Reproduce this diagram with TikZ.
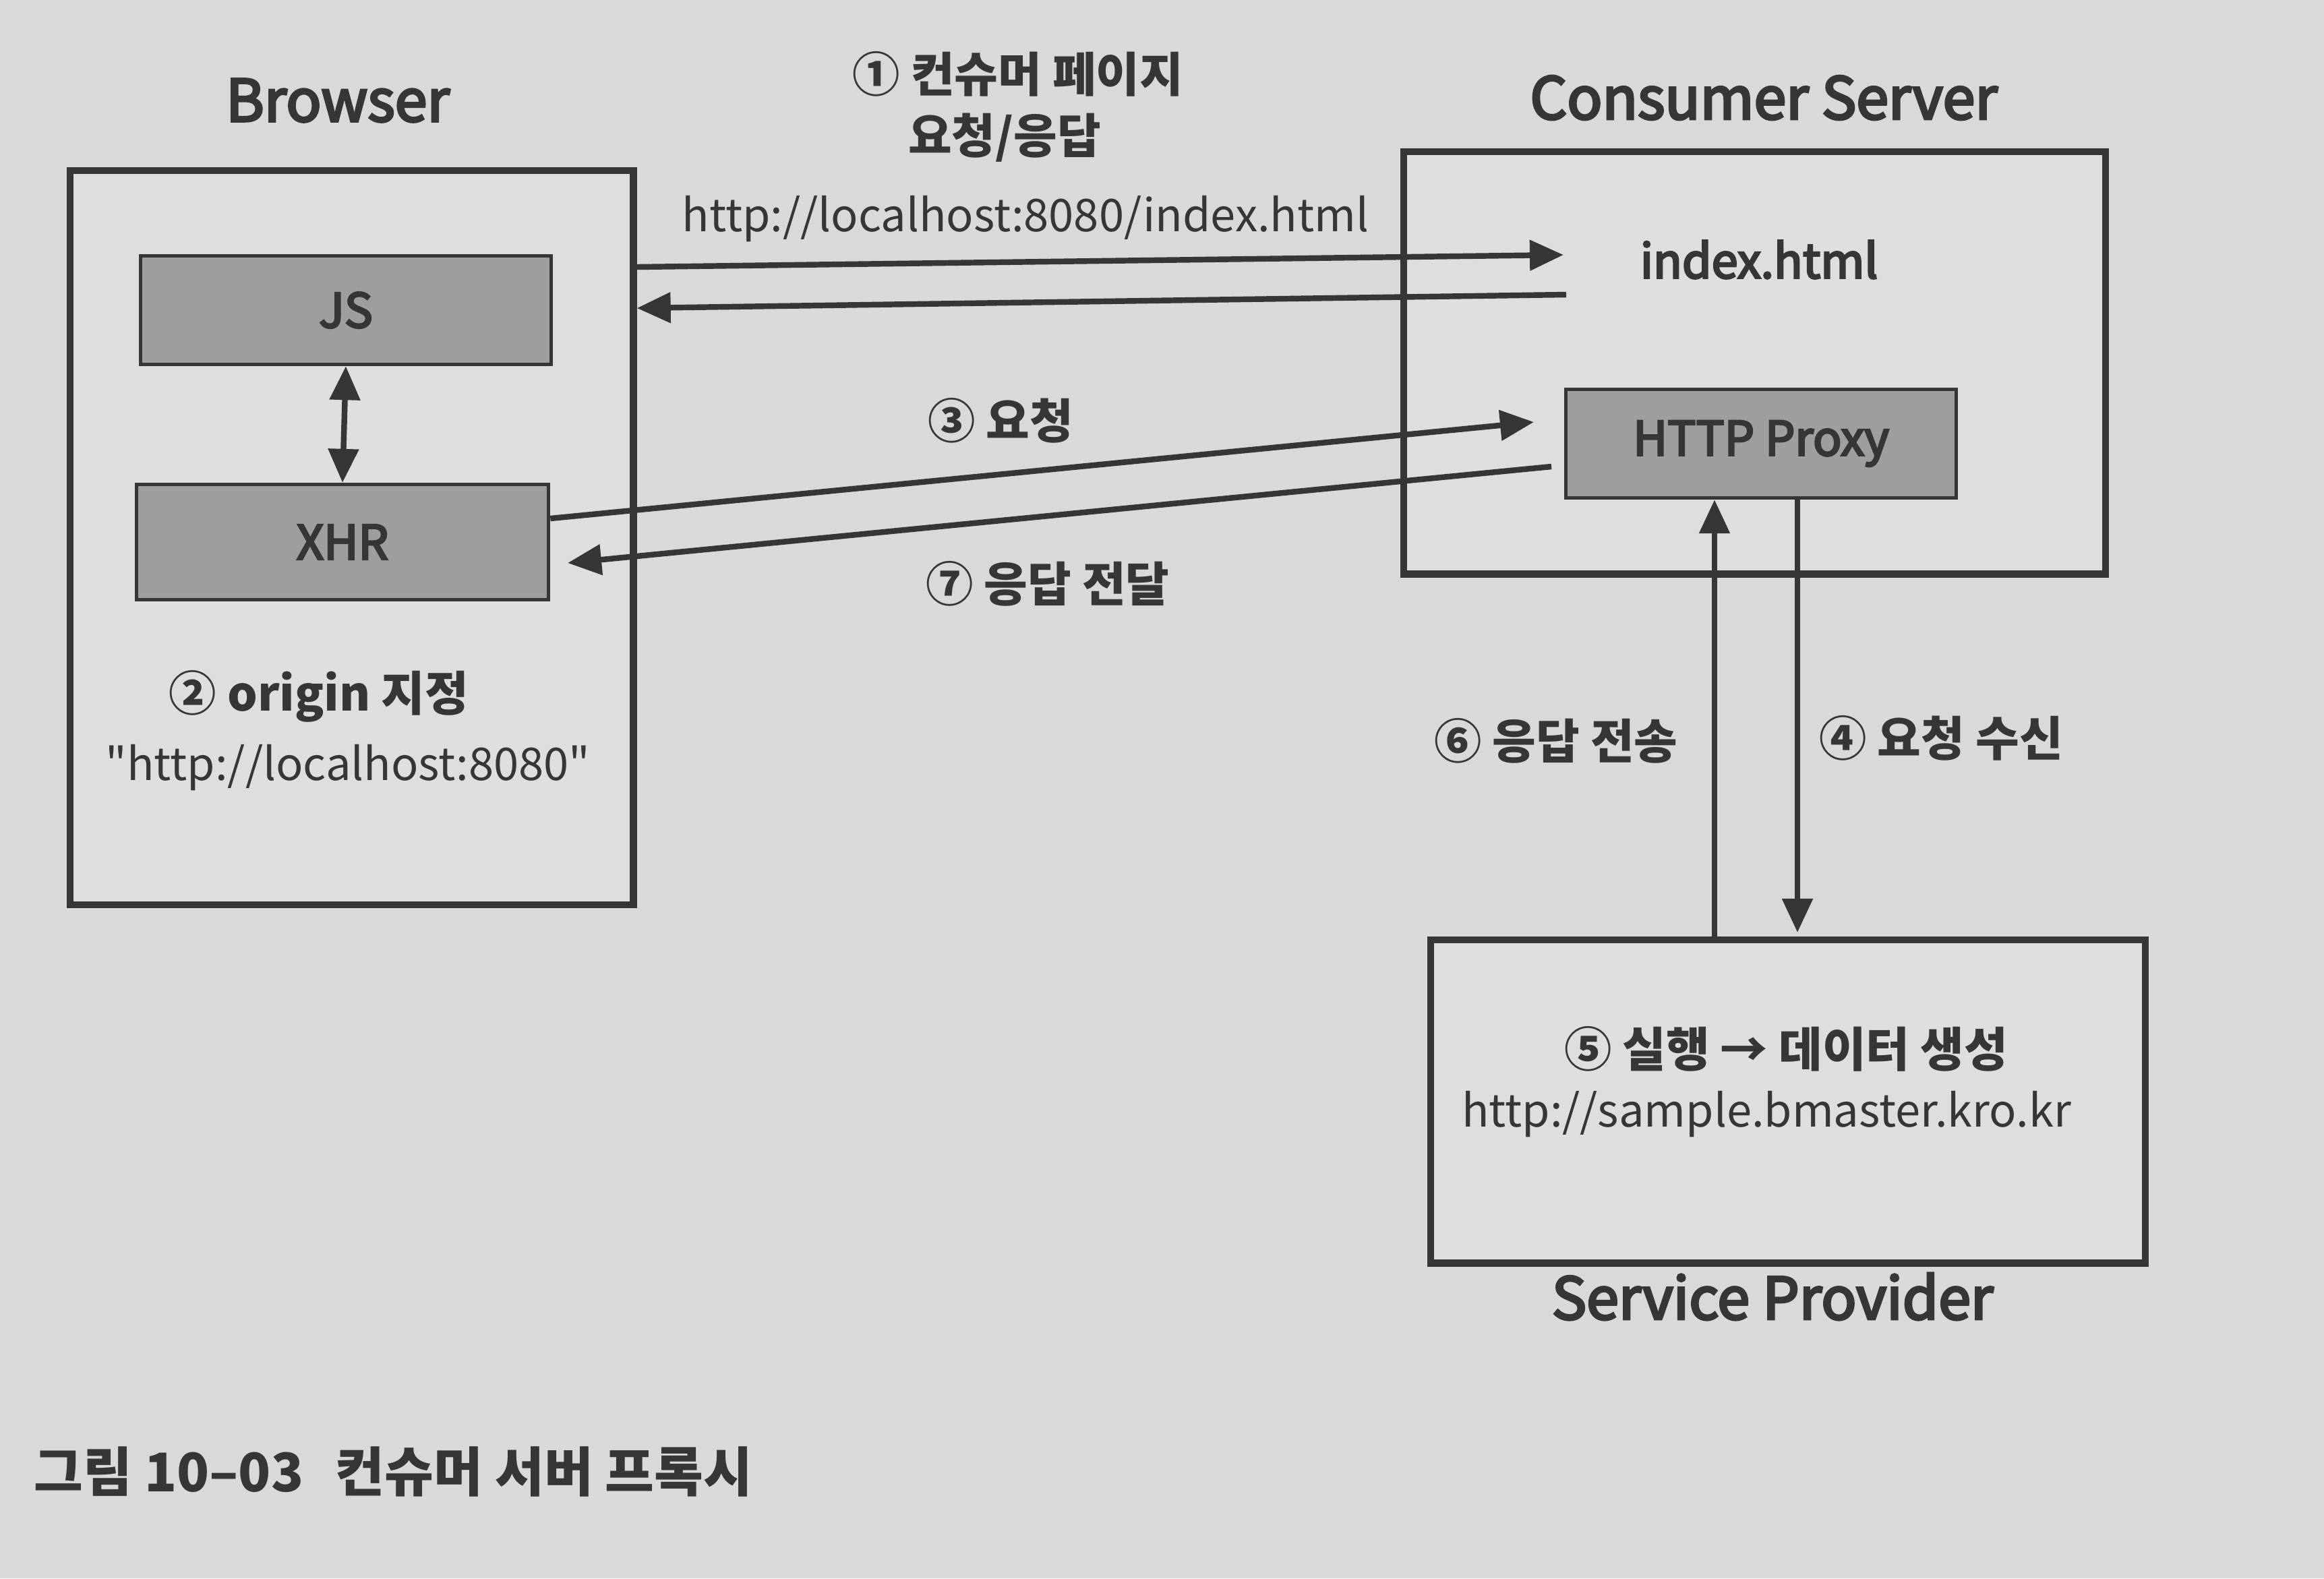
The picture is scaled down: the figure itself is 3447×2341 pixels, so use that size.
\documentclass[tikz,border=0pt]{standalone}
\usepackage{fontspec}
\setmainfont{Noto Sans CJK KR}
\newfontfamily\medfont{Noto Sans CJK KR}[FakeBold=4]
\newfontfamily\urlfont{Noto Sans CJK KR}
\usetikzlibrary{arrows.meta,calc}
\definecolor{paper}{HTML}{D9D9D7}
\definecolor{ink}{HTML}{363636}
\definecolor{boxfill}{HTML}{9E9E9E}
\definecolor{outerfill}{HTML}{DEDEDC}
\tikzset{
  outerbox/.style={draw=ink, line width=2.9pt, fill=outerfill, inner sep=0pt, anchor=north west},
  innerbox/.style={draw=ink, line width=1.5pt, fill=boxfill, inner sep=0pt, anchor=center, text=ink, font=\fontsize{20}{24}\medfont},
  title/.style={text=ink, font=\fontsize{24.5}{30}\medfont},
  lbl/.style={text=ink, font=\fontsize{20}{24}\selectfont\bfseries},
  urltext/.style={text=ink, font=\fontsize{19}{23}\urlfont},
  conn/.style={draw=ink, line width=2.4pt, -{Triangle[length=0.5cm,width=0.44cm]}},
  dconn/.style={draw=ink, line width=2.4pt, {Triangle[length=0.5cm,width=0.44cm]}-{Triangle[length=0.5cm,width=0.44cm]}},
}
\begin{document}
\begin{tikzpicture}[x=0.01cm,y=-0.01cm]
\fill[paper] (0,0) rectangle (3447,2341);
\useasboundingbox (0,0) rectangle (3447,2341);

% boxes
\node[outerbox, minimum width=8.35cm, minimum height=10.88cm] (browser) at (99,248) {};
\node[outerbox, minimum width=10.40cm, minimum height=6.26cm] (consumer) at (2077,220) {};
\node[outerbox, minimum width=10.59cm, minimum height=4.79cm] (provider) at (2117,1389) {};

\node[innerbox, minimum width=6.09cm, minimum height=1.61cm] (js) at (513,460) {JS};
\node[innerbox, minimum width=6.11cm, minimum height=1.71cm] (xhr) at (508,804) {XHR};
\node[innerbox, minimum width=5.78cm, minimum height=1.61cm] (proxy) at (2612,658) {HTTP Proxy};

% titles
\node[title] (tbrowser) at (501,149) {Browser};
\node[title] (tconsumer) at (2616,145) {Consumer Server};
\node[title] (tprovider) at (2629,1923) {Service Provider};

% texts
\node[text=ink, font=\fontsize{20}{24}\medfont] (index) at (2609,385) {index.html};
\node[lbl] (l1a) at (1510,110) {① 컨슈머 페이지};
\node[lbl] (l1b) at (1490,204) {요청/응답};
\node[urltext] (u1) at (1521,325) {http://localhost:8080/index.html};
\node[lbl] (l3) at (1484,624) {③ 요청};
\node[lbl] (l7) at (1554,866) {⑦ 응답 전달};
\node[lbl] (l2) at (473,1033) {② origin 지정};
\node[urltext] (u2) at (516,1139) {"http://localhost:8080"};
\node[lbl] (l6) at (2308,1099) {⑥ 응답 전송};
\node[lbl] (l4) at (2879,1095) {④ 요청 수신};
\node[lbl] (l5) at (2649,1556) {⑤ 실행 → 데이터 생성};
\node[urltext] (u5) at (2620,1653) {http://sample.bmaster.kro.kr};

% caption
\node[text=ink, anchor=west, font=\fontsize{22.5}{27}\selectfont\bfseries] (caption) at (38,2183) {그림 10–03\hspace{0.6em}컨슈머 서버 프록시};

% connector end points
\coordinate (a1s) at (browser.east |- 0,396);
\coordinate (a1e) at (2319,378);
\coordinate (a2s) at (2323,437);
\coordinate (a2e) at (browser.east |- 0,457);
\coordinate (a3s) at (xhr.east |- 0,769);
\coordinate (a3e) at (2275,626);
\coordinate (a7s) at (2301,692);
\coordinate (a7e) at (842,835);
\coordinate (a6s) at (provider.north -| 2543,0);
\coordinate (a6e) at (proxy.south -| 2543,0);
\coordinate (a4s) at (proxy.south -| 2666,0);
\coordinate (a4e) at (2666,1383);

\draw[dconn] (js.south) -- (xhr.north);
\draw[conn] (a1s) -- (a1e);
\draw[conn] (a2s) -- (a2e);
\draw[conn] (a3s) -- (a3e);
\draw[conn] (a7s) -- (a7e);
\draw[conn] (a6s) -- (a6e);
\draw[conn] (a4s) -- (a4e);
\end{tikzpicture}
\end{document}
